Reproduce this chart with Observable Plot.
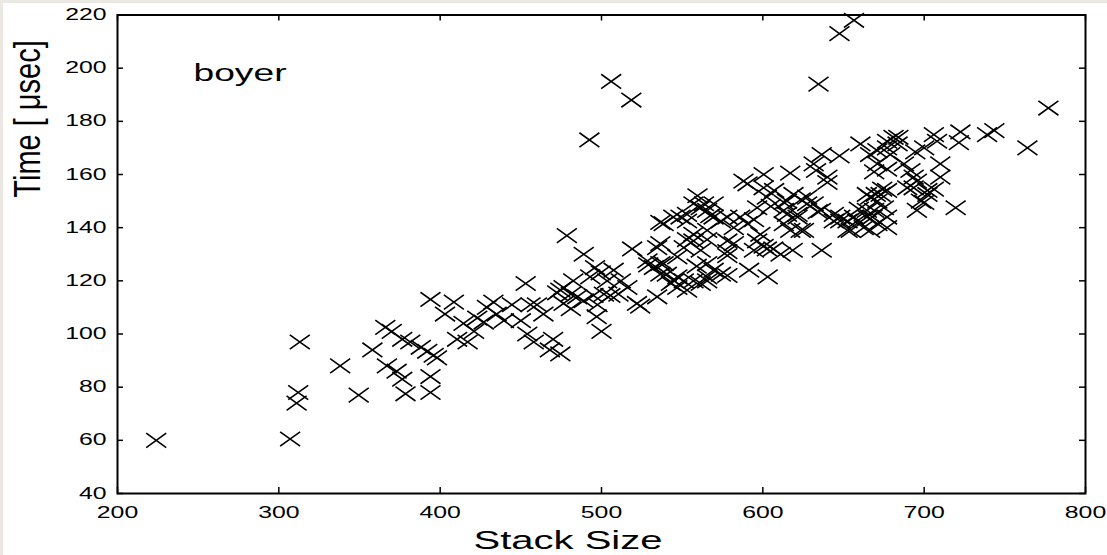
<!DOCTYPE html>
<html><head><meta charset="utf-8">
<script src="https://cdn.jsdelivr.net/npm/d3@7"></script>
<script src="https://cdn.jsdelivr.net/npm/@observablehq/plot@0.6"></script>
<style>
html,body{margin:0;padding:0;background:#ebe7e2;}
body{width:1107px;height:555px;overflow:hidden;position:relative;}
#chart{position:absolute;left:3px;top:3px;width:1104px;height:552px;background:#fff;}
#chart svg{display:block;}
</style></head><body><div id="chart"></div>
<script>
const stackSize = [
224,307,313,312,311,338,349.5,358,366,370,367,373,376.5,378.5,376.5,381.5,388,392,396,398,394,394,394,408.5,403,414.5,410.5,417,421,423,427,429,433,435,439.5,444.5,450,453,454,456,458,460,464,468,470,474.5,472.5,476.5,481,476.5,481,482.5,485,489,474.5,478.5,489,519,492.5,506,518.5,
495,505.5,510.5,516,524,534.5,496,499.5,493,507.5,503.5,512,501.5,497.5,497,500,522,529,532.5,536.5,538.5,536.5,540.5,543,545,547,553,557,561.5,528.5,536.5,534.5,538.5,536.5,544.5,549,553,553,557,553,551,547,557,561.5,547,551,559,565.5,565.5,569.5,574,578,565.5,559.5,557,561.5,565.5,569.5,563.5,569.5,567.5,574,565.5,565.5,578,578,582,578,582,586,578,590.5,594.5,588,590.5,596.5,600.5,602.5,607,600.5,605,613,615,619,623.5,627.5,621.5,615,621.5,613,617,598.5,596.5,600.5,602.5,606.5,594.5,611,617,623.5,613,618.5,591.5,603,636.5,625.5,
631.5,636.5,640,633,647.5,640,627.5,631.5,636,634,644,648,652.5,658.5,664.5,669,671,673,677,664.5,677,677,666.5,654.5,662.5,671,668,675,659.5,656.5,652.5,648,644,664.5,666.5,674,670,689.5,660.5,666.5,671,671,669,677,677,677,681,679,684,683.5,687.5,694.5,693.5,691.5,695.5,700,706,708,710,710,706,702,695.5,700,698,693.5,702,719.5,722.5,721.5,739,743.5,764,777,634.5,647.5,656.5
];
const timeUsec = [
60,60.5,97,78,74,88,77,94,102.5,101,88,86,83,77.5,98,97,95,93.5,92,91,84,78,113,112,107.5,104,98,97,101,106,104.5,110,112,107.5,105,111,105,119,100,111,97,111,107.5,94,98,92.5,115.5,117.5,115,111.5,109.5,120,114,112.5,116.5,137,130,132,173,195,188,
114.5,114.5,115,117.5,110.5,114,125,123,121.5,124,120,120,115,111,106.5,101,111.5,126,125,126.5,126.5,122.5,122.5,119,120,117.5,116.5,120,119,127.5,134,132.5,141.5,142,144,144,145,142.5,137.5,135.5,132.5,129,135,131.5,121.5,120,125.5,121.5,126.5,124,122.5,122,120,152,149,147.5,146.5,144,149,149,144.5,142.5,139,135.5,129.5,131,134,135,140,144,144,141.5,143,157.5,156.5,147.5,160,151.5,154,155,148,149.5,150,152.5,150.5,149,145,145,144,146.5,160.5,137.5,135,133,132,132,131.5,130,139,139,141.5,131.5,124,121.5,131.5,139,
164,167.5,159,161.5,167,157,151.5,149,146.5,146,145,142.5,139,142.5,144,146.5,150,152.5,154,152.5,144,140,139,139,140,141.5,144,147.5,147,144,142.5,144,142.5,146.5,151.5,154.5,152.5,155,171.5,167.5,169,164,161,162,170,172.5,174,167.5,174,171.5,164,168.5,159,161.5,157.5,170,175,172.5,164,159,154.5,152.5,146.5,149.5,150,155,154,147.5,176,172,175,176.5,170,185,194,213,218
];
const xTicks = [200, 300, 400, 500, 600, 700, 800];
const yTicks = [40, 60, 80, 100, 120, 140, 160, 180, 200, 220];
const panelLabel = "boyer";
const xLabel = "Stack Size";
const yLabel = "Time [ μsec]";

const W = 1104, H = 552;
const mL = 114, mR = 22, mT = 11.5, mB = 62;
const fw = W - mL - mR, fh = H - mT - mB;
const tickLen = 6;
const data = stackSize.map((x, i) => ({x, y: timeUsec[i]}));

const cross = {
  draw(ctx, size) {
    const r = Math.sqrt(size / Math.PI), h = 0.72 * r;
    ctx.moveTo(-r, -h); ctx.lineTo(r, h);
    ctx.moveTo(-r, h); ctx.lineTo(r, -h);
  }
};

const svgNode = Plot.plot({
  width: W, height: H,
  marginLeft: mL, marginRight: mR, marginTop: mT, marginBottom: mB,
  style: {fontFamily: "'Liberation Sans', Arial, Helvetica, sans-serif", fontSize: "16px", color: "#000", background: "#fff"},
  x: {domain: [200, 800], ticks: xTicks, tickSize: 0, tickPadding: 13, label: null},
  y: {domain: [40, 220], ticks: yTicks, tickSize: 0, tickPadding: 11, label: null},
  marks: [
    Plot.ruleX(xTicks, {x: d => d, insetTop: fh - tickLen, stroke: "#000", strokeWidth: 1.5}),
    Plot.ruleX(xTicks, {x: d => d, insetBottom: fh - tickLen, stroke: "#000", strokeWidth: 1.5}),
    Plot.ruleY(yTicks, {y: d => d, insetRight: fw - tickLen, stroke: "#000", strokeWidth: 1.5}),
    Plot.ruleY(yTicks, {y: d => d, insetLeft: fw - tickLen, stroke: "#000", strokeWidth: 1.5}),
    Plot.dot(data, {x: "x", y: "y", r: 10, symbol: cross, fill: "none", stroke: "#000", strokeWidth: 1.6}),
    Plot.frame({stroke: "#000", strokeWidth: 2})
  ]
});

// stretch tick labels horizontally around their anchor point
const num = /^\s*-?\d*\.?\d+(e-?\d+)?\s*$/i;
function stretch(el, k) {
  const xa = el.getAttribute("x"), ya = el.getAttribute("y");
  let tx = 0, ty = 0;
  if (xa != null && num.test(xa)) { tx = +xa; el.removeAttribute("x"); }
  if (ya != null && num.test(ya)) { ty = +ya; el.removeAttribute("y"); }
  const t = el.getAttribute("transform") || "";
  el.setAttribute("transform", `${t} translate(${tx},${ty}) scale(${k},1)`);
}
svgNode.querySelectorAll("text").forEach(el => stretch(el, 1.55));

const svg = d3.select(svgNode);
const ff = "'Liberation Sans', Arial, Helvetica, sans-serif";
svg.append("text")
  .attr("transform", "translate(237,78) scale(1.55,1)")
  .attr("text-anchor", "middle").attr("font-family", ff).attr("font-size", 24).attr("fill", "#000")
  .text(panelLabel);
svg.append("text")
  .attr("transform", "translate(565,546) scale(1.6,1)")
  .attr("text-anchor", "middle").attr("font-family", ff).attr("font-size", 25).attr("fill", "#000")
  .text(xLabel);
svg.append("g")
  .attr("transform", "translate(37,116) scale(1.3,1)")
  .append("text")
  .attr("transform", "rotate(-90)")
  .attr("text-anchor", "middle").attr("font-family", ff).attr("font-size", 29).attr("fill", "#000")
  .text(yLabel);

document.getElementById("chart").appendChild(svgNode);
</script>
</body></html>
